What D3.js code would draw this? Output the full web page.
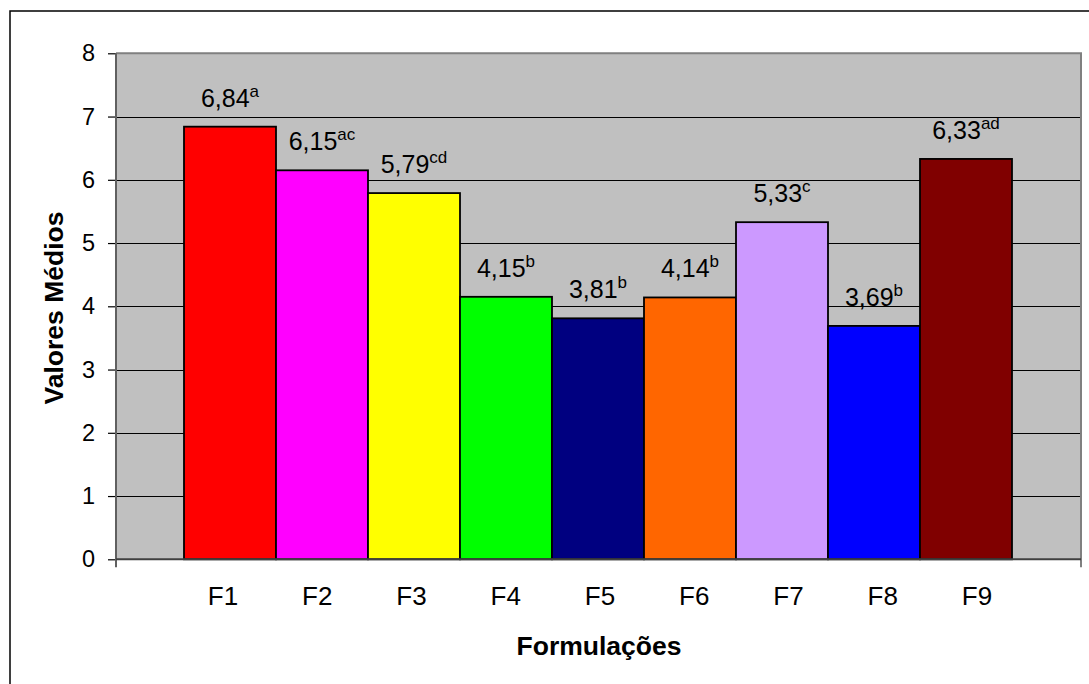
<!DOCTYPE html>
<html><head><meta charset="utf-8">
<script src="https://cdn.jsdelivr.net/npm/d3@7"></script>
<style>body{margin:0;background:#fff}svg{display:block;font-family:"Liberation Sans",Arial,sans-serif}</style>
</head><body><svg id="c" width="1089" height="684"></svg>
<script>
const categories = ["F1","F2","F3","F4","F5","F6","F7","F8","F9"];
const values = [6.84,6.15,5.79,4.15,3.81,4.14,5.33,3.69,6.33];
const letters = ["a","ac","cd","b","b","b","c","b","ad"];
const colors = ["#FF0000","#FF00FF","#FFFF00","#00FF00","#000080","#FF6600","#CC99FF","#0000FF","#800000"];
const yTicks = [0,1,2,3,4,5,6,7,8];
const xTitle = "Formulações";
const yTitle = "Valores Médios";

const svg = d3.select("#c");
const P = {left:116, right:1081, top:53.3, bottom:559.3};

// outer frame
svg.append("rect").attr("x",10).attr("y",11).attr("width",1100).attr("height",700)
  .attr("fill","none").attr("stroke","#000").attr("stroke-width",1.5);

const y = d3.scaleLinear().domain([0,8]).range([P.bottom,P.top]);
const x = d3.scaleBand().domain(categories).range([184,1012]).padding(0);
const xl = d3.scalePoint().domain(categories).range([223,977]);

// plot background
svg.append("rect").attr("x",P.left).attr("y",P.top).attr("width",P.right-P.left).attr("height",P.bottom-P.top)
  .attr("fill","#C0C0C0");

// gridlines
svg.append("g").selectAll("line").data(yTicks.filter(d=>d>0&&d<8)).join("line")
  .attr("x1",P.left).attr("x2",P.right).attr("y1",d=>Math.round(y(d))+0.5).attr("y2",d=>Math.round(y(d))+0.5)
  .attr("stroke","#000").attr("stroke-width",1);

// plot border (gray)
svg.append("path").attr("d",`M${P.left},${P.top}H${P.right}V${P.bottom+8}`)
  .attr("fill","none").attr("stroke","#808080").attr("stroke-width",2);

// bars
svg.append("g").selectAll("rect").data(values).join("rect")
  .attr("x",(d,i)=>x(categories[i])).attr("width",x.bandwidth())
  .attr("y",d=>y(d)).attr("height",d=>y(0)-y(d))
  .attr("fill",(d,i)=>colors[i]).attr("stroke","#000").attr("stroke-width",1.8);

// y axis
const ya = d3.axisLeft(y).tickValues(yTicks).tickSize(8).tickPadding(13).tickFormat(d3.format("d"));
const gy = svg.append("g").attr("transform",`translate(${P.left},0)`).call(ya);
gy.select(".domain").remove();
gy.selectAll(".tick line").attr("stroke","#000").attr("stroke-width",1.2);
gy.selectAll(".tick text").attr("font-size",23.5).attr("fill","#000").attr("font-family","Liberation Sans, Arial, sans-serif");
svg.append("line").attr("x1",P.left).attr("x2",P.left).attr("y1",P.top).attr("y2",P.bottom+8)
  .attr("stroke","#606060").attr("stroke-width",2);
svg.append("line").attr("x1",P.left).attr("x2",P.right).attr("y1",P.bottom).attr("y2",P.bottom)
  .attr("stroke","#404040").attr("stroke-width",2);

// data labels
const fmt = v => d3.format(".2f")(v).replace(".",",");
const lab = svg.append("g").selectAll("text").data(values).join("text")
  .attr("x",(d,i)=>x(categories[i])+x.bandwidth()/2).attr("y",d=>y(d)-20)
  .attr("text-anchor","middle").attr("font-size",25).attr("fill","#000");
lab.append("tspan").text(d=>fmt(d));
lab.append("tspan").attr("dy",-10).attr("font-size",17).text((d,i)=>letters[i]);

// x labels
svg.append("g").selectAll("text").data(categories).join("text")
  .attr("x",d=>xl(d)).attr("y",605).attr("text-anchor","middle").attr("font-size",26).attr("fill","#000").text(d=>d);

// titles
svg.append("text").attr("x",599).attr("y",655).attr("text-anchor","middle").attr("font-size",26.5)
  .attr("font-weight","bold").text(xTitle);
svg.append("text").attr("transform","translate(63,308) rotate(-90)").attr("text-anchor","middle")
  .attr("font-size",26.5).attr("font-weight","bold").text(yTitle);
</script></body></html>
